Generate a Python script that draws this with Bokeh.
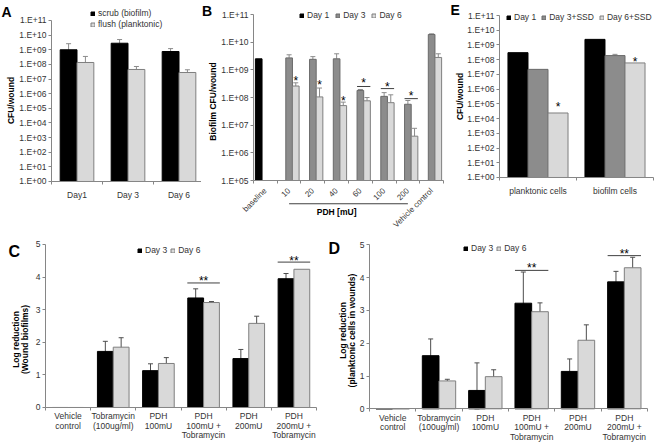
import math
from bokeh.plotting import figure
from bokeh.models import (ColumnDataSource, Range1d, FixedTicker, Whisker, TeeHead,
                          Legend, LegendItem, Label, CustomJSTickFormatter)
from bokeh.transform import dodge
from bokeh.layouts import row, column
from bokeh.embed import file_html
from bokeh.resources import INLINE
from bokeh.core.properties import value

# ---------------- data ----------------
log_ticks = [1, 10, 100, 1000, 10000, 100000, 1000000, 10000000, 100000000,
             1000000000, 10000000000, 100000000000]
log_labels = ["1.E+00", "1.E+01", "1.E+02", "1.E+03", "1.E+04", "1.E+05", "1.E+06",
              "1.E+07", "1.E+08", "1.E+09", "1.E+10", "1.E+11"]
b_log_ticks = [100000, 1000000, 10000000, 100000000, 1000000000, 10000000000, 100000000000]

# Panel A
a_days = ["Day1", "Day 3", "Day 6"]
a_scrub = [1.0e9, 2.8e9, 7.6e8]
a_scrub_hi = [2.6e9, 5.0e9, 1.2e9]
a_flush = [1.35e8, 4.5e7, 2.8e7]
a_flush_hi = [3.5e8, 7.2e7, 4.3e7]

# Panel B
b_cats = ["baseline", "10", "20", "40", "60", "100", "200", "Vehicle control"]
b_day1_cats = ["baseline"]
b_day1 = [2.5e9]
b_treat_cats = ["10", "20", "40", "60", "100", "200", "Vehicle control"]
b_day3 = [2.7e9, 2.4e9, 2.5e9, 1.8e8, 1.1e8, 5.7e7, 1.9e10]
b_day3_hi = [3.5e9, 3.0e9, 3.8e9, 1.95e8, 1.5e8, 7.8e7, 2.0e10]
b_day6 = [2.6e8, 1.05e8, 5.1e7, 7.6e7, 6.5e7, 4.0e6, 2.8e9]
b_day6_hi = [3.4e8, 2.2e8, 6.8e7, 1.0e8, 1.25e8, 7.7e6, 3.8e9]
b_star1_cats = ["10", "20", "40"]
b_star1_y = [5.0e8, 3.6e8, 1.0e8]
b_star2_cats = ["60", "100", "200"]
b_star2_y = [4.2e8, 3.2e8, 1.4e8]
b_line2_y = [2.5e8, 2.1e8, 9.1e7]
b_group_cats = ["10", "200"]      # span of the "PDH [mU]" bracket
b_group_label_cat = "40"
b_group_line_y = 10 ** 4.16
b_group_text_y = 10 ** 3.85
b_tick_label_y = 10 ** 4.675

# Panel E
e_cats = ["planktonic cells", "biofilm cells"]
e_day1 = [3.0e8, 2.4e9]
e_day3 = [2.2e7, 1.9e8]
e_day6 = [2.4e4, 6.0e7]
e_err_cats = ["biofilm cells"]
e_day3_hi = [2.3e8]
e_star_y = [1.0e5, 1.2e8]

# Panels C and D
cd_cats = ["Vehicle\ncontrol", "Tobramycin\n(100ug/ml)", "PDH\n100mU",
           "PDH\n100mU +\nTobramycin", "PDH\n200mU", "PDH\n200mU +\nTobramycin"]
c_day3 = [0, 1.72, 1.13, 3.36, 1.50, 3.95]
c_day3_err = [0, 0.31, 0.21, 0.28, 0.28, 0.16]
c_day6 = [0, 1.85, 1.35, 3.22, 2.58, 4.24]
c_day6_err = [0, 0.29, 0.18, 0.03, 0.22, 0.0]
c_sig_cats = ["PDH\n100mU +\nTobramycin", "PDH\n200mU +\nTobramycin"]
c_sig_line = [3.82, 4.46]
c_sig_star = [3.98, 4.59]

d_day3 = [0, 1.62, 0.56, 3.22, 1.14, 3.87]
d_day3_err = [0, 0.51, 0.84, 0.95, 0.38, 0.32]
d_day6 = [0, 0.85, 0.98, 2.96, 2.09, 4.30]
d_day6_err = [0, 0.05, 0.21, 0.27, 0.47, 0.32]
d_sig_line = [4.22, 4.67]
d_sig_star = [4.37, 4.82]

lin_ticks = [0, 1, 2, 3, 4, 5]

# ---------------- style ----------------
FONT = "Liberation Sans"
TXT = "#333333"
TITLE = "#000000"
AX = "#868686"
BLACK = "#000000"
LIGHT = "#d9d9d9"
DARK = "#8c8c8c"
EDGE = "#7f7f7f"
DEDGE = "#6a6a6a"
ERR1 = "#8c8c8c"
ERR2 = "#4d4d4d"
FS = "8.5px"


def pos(cats, names):
    return [cats.index(n) + 1 for n in names]


def make_fig(width, height, cats, xr, yr, ylog, ybounds, ybase, xstandoff, axis_labels=True,
             yticks=None):
    p = figure(width=width, height=height, x_range=Range1d(*xr), y_range=Range1d(*yr),
               y_axis_type="log" if ylog else "linear", title=None,
               output_backend="svg", toolbar_location=None,
               min_border_left=0, min_border_right=0, min_border_top=0, min_border_bottom=0)
    p.xgrid.visible = False
    p.ygrid.visible = False
    p.outline_line_color = None
    n = len(cats)
    for ax in p.axis:
        ax.axis_line_color = AX
        ax.major_tick_line_color = AX
        ax.minor_tick_line_color = None
        ax.major_tick_in = 0
        ax.major_tick_out = 3
        ax.minor_tick_in = 0
        ax.minor_tick_out = 3
        ax.major_label_text_font = FONT
        ax.major_label_text_font_size = FS
        ax.major_label_text_color = TXT
        ax.major_label_standoff = 2
    xa = p.xaxis[0]
    ya = p.yaxis[0]
    xa.fixed_location = ybase
    ya.fixed_location = 0.5
    xa.bounds = (0.5, n + 0.5)
    ya.bounds = ybounds
    xa.ticker = FixedTicker(ticks=list(range(1, n + 1)),
                            minor_ticks=[i + 0.5 for i in range(n + 1)])
    xa.formatter = CustomJSTickFormatter(
        args=dict(labs=cats if axis_labels else [""] * n), code="""
        const i = Math.round(tick) - 1;
        return (i >= 0 && i < labs.length) ? labs[i] : "";
    """)
    xa.major_tick_line_color = None
    xa.major_tick_out = 0
    xa.minor_tick_line_color = AX
    xa.major_label_standoff = xstandoff
    if ylog:
        ya.ticker = FixedTicker(ticks=yticks if yticks is not None else log_ticks)
        ya.formatter = CustomJSTickFormatter(
            args=dict(tv=log_ticks, tl=log_labels),
            code="""
            for (let i = 0; i < tv.length; i++) {
              if (Math.abs(Math.log10(tv[i]) - Math.log10(tick)) < 1e-6) return tl[i];
            }
            return "";
            """)
    else:
        ya.ticker = FixedTicker(ticks=lin_ticks)
    return p


def label(p, text, x, y, size, bold=True, angle=0.0, align="left", baseline="top"):
    p.add_layout(Label(x=x, y=y, x_units="screen", y_units="screen", text=text, angle=angle,
                       text_font=FONT, text_font_style="bold" if bold else "normal",
                       text_font_size=size, text_color=BLACK, text_align=align,
                       text_baseline=baseline))


def ytitle(p, text, x, y):
    label(p, text, x, y, FS, True, math.pi / 2, "center", "middle")


def legend(p, items, loc, orientation, spacing):
    lg = Legend(items=[LegendItem(label=l, renderers=[r]) for l, r in items],
                location=loc, orientation=orientation, background_fill_alpha=0,
                border_line_color=None, padding=0, margin=0, spacing=spacing,
                label_text_font=FONT, label_text_font_size=FS, label_text_color=TXT,
                glyph_width=5, glyph_height=5, label_standoff=3, label_height=10)
    p.add_layout(lg)


def whisk(p, src, off, lo, hi, color, both):
    w = Whisker(source=src, base=dodge("x", off), lower=lo, upper=hi,
                line_color=color, line_width=1,
                upper_head=TeeHead(size=5, line_color=color, line_width=1),
                lower_head=TeeHead(size=5, line_color=color, line_width=1) if both else None)
    p.add_layout(w)


def stars(p, xs, ys, off, txt):
    src = ColumnDataSource(dict(x=xs, y=ys, t=[txt] * len(xs)))
    p.text(x=dodge("x", off), y="y", text="t", source=src,
           text_font=value(FONT), text_font_size="12px", text_color=BLACK,
           text_align="center", text_baseline="middle", y_offset=3)


def sig_lines(p, xs, ys, x0, x1, color):
    src = ColumnDataSource(dict(x=xs, y=ys))
    p.segment(x0=dodge("x", x0), x1=dodge("x", x1), y0="y", y1="y", source=src,
              line_color=color, line_width=1)


TOP_H = 232
BOT_H = 210

# ---------------- Panel A ----------------
pA = make_fig(201, TOP_H, a_days, (-0.5, 3.441), (10 ** -3.485, 10 ** 12.366), True,
              (1, 1e11), 1, 6)
srcA = ColumnDataSource(dict(x=pos(a_days, a_days), s=a_scrub, sh=a_scrub_hi,
                             f=a_flush, fh=a_flush_hi))
rA1 = pA.vbar(x=dodge("x", -0.165), top="s", bottom=1, width=0.33,
              source=srcA, fill_color=BLACK, line_color=BLACK)
rA2 = pA.vbar(x=dodge("x", 0.165), top="f", bottom=1, width=0.33,
              source=srcA, fill_color=LIGHT, line_color=EDGE)
whisk(pA, srcA, -0.165, "s", "sh", ERR1, False)
whisk(pA, srcA, 0.165, "f", "fh", ERR1, False)
legend(pA, [("scrub (biofilm)", rA1), ("flush (planktonic)", rA2)], (90, 203), "vertical", 1)
label(pA, "A", 1, 228.6, "14px")
ytitle(pA, "CFU/wound", 10, 132)

# ---------------- Panel B ----------------
pB = make_fig(246, TOP_H, b_cats, (-1.689, 8.668), (10 ** 3.121, 10 ** 11.506), True,
              (1e5, 1e11), 1e5, 3, axis_labels=False, yticks=b_log_ticks)
srcB1 = ColumnDataSource(dict(x=pos(b_cats, b_day1_cats), v=b_day1))
srcB = ColumnDataSource(dict(x=pos(b_cats, b_treat_cats), d3=b_day3, d3h=b_day3_hi,
                             d6=b_day6, d6h=b_day6_hi))
rB1 = pB.vbar(x=dodge("x", -0.28), top="v", bottom=1e5, width=0.28,
              source=srcB1, fill_color=BLACK, line_color=BLACK)
rB2 = pB.vbar(x=dodge("x", 0.0), top="d3", bottom=1e5, width=0.28,
              source=srcB, fill_color=DARK, line_color=DEDGE)
rB3 = pB.vbar(x=dodge("x", 0.28), top="d6", bottom=1e5, width=0.28,
              source=srcB, fill_color=LIGHT, line_color=EDGE)
whisk(pB, srcB, 0.0, "d3", "d3h", ERR1, False)
whisk(pB, srcB, 0.28, "d6", "d6h", ERR1, False)
stars(pB, pos(b_cats, b_star1_cats), b_star1_y, 0.28, "*")
stars(pB, pos(b_cats, b_star2_cats), b_star2_y, 0.14, "*")
sig_lines(pB, pos(b_cats, b_star2_cats), b_line2_y, -0.14, 0.42, "#404040")
legend(pB, [("Day 1", rB1), ("Day 3", rB2), ("Day 6", rB3)], (98, 212), "horizontal", 6)
label(pB, "B", 0.5, 229.6, "14px")
ytitle(pB, "Biofilm CFU/wound", 11.5, 131)
# rotated category labels (45 degrees), right end anchored under each category
srcBl = ColumnDataSource(dict(x=pos(b_cats, b_cats), y=[b_tick_label_y] * len(b_cats), t=b_cats))
pB.text(x="x", y="y", text="t", source=srcBl, angle=math.pi / 4,
        text_font=value(FONT), text_font_size="8px", text_color=TXT,
        text_align="right", text_baseline="middle")
gx = pos(b_cats, b_group_cats)
pB.segment(x0=[gx[0]], x1=[gx[1]], y0=[b_group_line_y], y1=[b_group_line_y],
           line_color="#404040", line_width=1)
pB.text(x=pos(b_cats, [b_group_label_cat]), y=[b_group_text_y], text=["PDH [mU]"],
        text_font=value(FONT), text_font_style="bold", text_font_size=FS, text_color=TITLE,
        text_align="center", text_baseline="middle")

# ---------------- Panel E ----------------
pE = make_fig(208, TOP_H, e_cats, (-0.1753, 2.526), (10 ** -3.735, 10 ** 12.019), True,
              (1, 1e11), 1, 6)
srcE = ColumnDataSource(dict(x=pos(e_cats, e_cats), d1=e_day1, d3=e_day3, d6=e_day6))
rE1 = pE.vbar(x=dodge("x", -0.26), top="d1", bottom=1, width=0.26,
              source=srcE, fill_color=BLACK, line_color=BLACK)
rE2 = pE.vbar(x=dodge("x", 0.0), top="d3", bottom=1, width=0.26,
              source=srcE, fill_color=DARK, line_color=DEDGE)
rE3 = pE.vbar(x=dodge("x", 0.26), top="d6", bottom=1, width=0.26,
              source=srcE, fill_color=LIGHT, line_color=EDGE)
srcEe = ColumnDataSource(dict(x=pos(e_cats, e_err_cats), v=[e_day3[1]], h=e_day3_hi))
whisk(pE, srcEe, 0.0, "v", "h", ERR1, False)
stars(pE, pos(e_cats, e_cats), e_star_y, 0.26, "*")
legend(pE, [("Day 1", rE1), ("Day 3+SSD", rE2), ("Day 6+SSD", rE3)], (59, 210), "horizontal", 5)
label(pE, "E", 3, 231, "14px")
ytitle(pE, "CFU/wound", 12.5, 136)


# ---------------- Panels C and D ----------------
def lin_panel(width, xr, yr, d3, d3e, d6, d6e, sig_line, sig_star, ylines, yl_x, yl_y,
              off, bw, lg_loc, let, let_xy):
    p = make_fig(width, BOT_H, cd_cats, xr, yr, False, (0, 5), 0, 1)
    p.xaxis.major_label_text_line_height = 0.95
    xs = pos(cd_cats, cd_cats)
    src = ColumnDataSource(dict(x=xs, d3=d3, d6=d6))
    r1 = p.vbar(x=dodge("x", -off), top="d3", width=bw, source=src,
                fill_color=BLACK, line_color=BLACK)
    r2 = p.vbar(x=dodge("x", off), top="d6", width=bw, source=src,
                fill_color=LIGHT, line_color=EDGE)
    for vals, errs, o in ((d3, d3e, -off), (d6, d6e, off)):
        idx = [i for i in range(len(cd_cats)) if errs[i] > 0]
        es = ColumnDataSource(dict(x=[xs[i] for i in idx],
                                   lo=[max(0, vals[i] - errs[i]) for i in idx],
                                   hi=[vals[i] + errs[i] for i in idx]))
        whisk(p, es, o, "lo", "hi", ERR2, True)
    sx = pos(cd_cats, c_sig_cats)
    sig_lines(p, sx, sig_line, -0.36, 0.36, "#404040")
    stars(p, sx, sig_star, 0.0, "**")
    legend(p, [("Day 3", r1), ("Day 6", r2)], lg_loc, "horizontal", 3)
    label(p, let, let_xy[0], let_xy[1], "16px")
    for t, x in zip(ylines, yl_x):
        ytitle(p, t, x, yl_y)
    return p


pC = lin_panel(325, (-0.496, 6.699), (-1.074, 5.368), c_day3, c_day3_err, c_day6, c_day6_err,
               c_sig_line, c_sig_star, ["Log reduction", "(Wound biofilms)"], [15, 24], 103,
               0.175, 0.35, (137, 187), "C", (8, 200))
pD = lin_panel(330, (-0.4497, 6.673), (-1.027, 5.375), d_day3, d_day3_err, d_day6, d_day6_err,
               d_sig_line, d_sig_star, ["Log reduction", "(planktonic cells in wounds)"],
               [17, 26.5], 112, 0.18, 0.36, (138, 189), "D", (3, 203))

layout = column(row(pA, pB, pE, spacing=0), row(pC, pD, spacing=0), spacing=0)
open("out.html", "w").write(file_html(layout, INLINE))
